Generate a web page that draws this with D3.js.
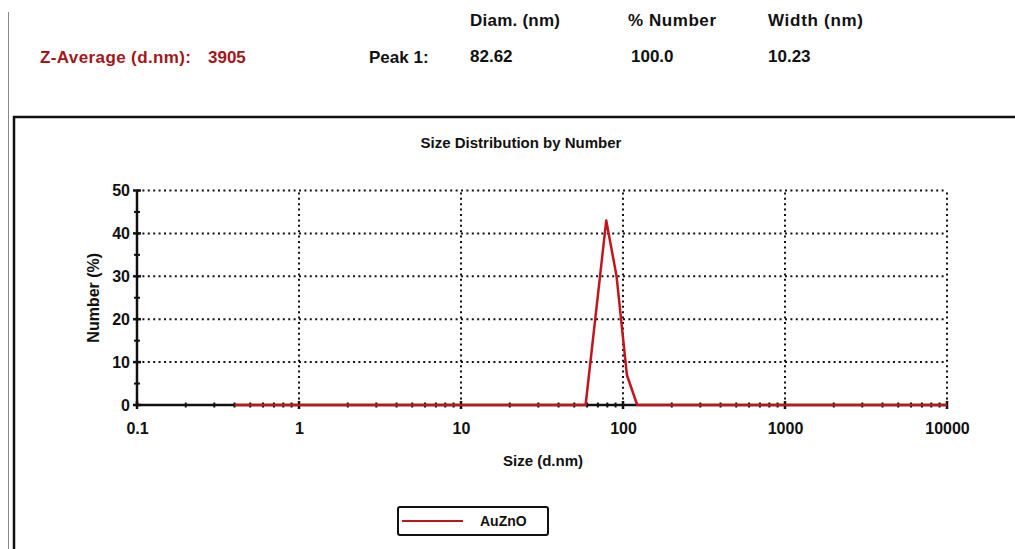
<!DOCTYPE html>
<html><head><meta charset="utf-8">
<script src="https://cdn.jsdelivr.net/npm/d3@7"></script>
<style>
html,body{margin:0;padding:0;background:#fff;}
svg{display:block;}
text{font-family:"Liberation Sans",Arial,sans-serif;font-weight:bold;}
</style></head>
<body>
<svg id="c" width="1015" height="549"></svg>
<script>
// ---- data ----
const sizes = [0.4, 58.77, 68.06, 78.82, 91.28, 105.7, 122.4, 10000];
const numbers = [0, 0, 21.5, 43, 30, 7, 0, 0];
const seriesName = "AuZnO";
const xTickValues = [0.1, 1, 10, 100, 1000, 10000];
const xTickLabels = ["0.1", "1", "10", "100", "1000", "10000"];
const yTickValues = [0, 10, 20, 30, 40, 50];
const headerLabels = ["Diam. (nm)", "% Number", "Width (nm)"];
const peakValues = ["82.62", "100.0", "10.23"];
const zAverage = "3905";

const svg = d3.select("#c");
const x = d3.scaleLog().domain([0.1, 10000]).range([137, 947]);
const y = d3.scaleLinear().domain([0, 50]).range([405, 190.5]);

// frame lines
svg.append("line").attr("x1", 8.5).attr("x2", 8.5).attr("y1", 12).attr("y2", 549)
  .attr("stroke", "#888").attr("stroke-width", 1);
svg.append("path").attr("d", "M14,549 V117 H1015").attr("fill", "none")
  .attr("stroke", "#111").attr("stroke-width", 2.5);

// header
const hdrX = [470, 628, 768];
headerLabels.forEach((t, i) => svg.append("text").attr("x", hdrX[i]).attr("y", 26)
  .attr("font-size", 17).attr("fill", "#111").attr("textLength", [90, 88, 95][i]).text(t));
peakValues.forEach((t, i) => svg.append("text").attr("x", hdrX[i] + (i === 1 ? 3 : 0)).attr("y", 62)
  .attr("font-size", 17).attr("fill", "#111").text(t));
svg.append("text").attr("x", 369).attr("y", 63).attr("font-size", 17).attr("fill", "#111").text("Peak 1:");
svg.append("text").attr("x", 40).attr("y", 63).attr("font-size", 17).attr("fill", "#a3161a")
  .attr("textLength", 151).text("Z-Average (d.nm):");
svg.append("text").attr("x", 208).attr("y", 63).attr("font-size", 17).attr("fill", "#a3161a")
  .text(zAverage);

// title
svg.append("text").attr("x", 521).attr("y", 148).attr("text-anchor", "middle")
  .attr("font-size", 15).attr("fill", "#111")
  .text("Size Distribution by Number");

// grid (dotted)
const g = svg.append("g");
g.selectAll("line.hg").data(yTickValues.filter(v => v > 0)).join("line")
  .attr("x1", x(0.1)).attr("x2", x(10000)).attr("y1", d => y(d)).attr("y2", d => y(d))
  .attr("stroke", "#111").attr("stroke-width", 2).attr("stroke-dasharray", "2,3.4");
g.selectAll("line.vg").data(xTickValues.filter(v => v > 0.1)).join("line")
  .attr("y1", y(0)).attr("y2", y(50)).attr("x1", d => x(d)).attr("x2", d => x(d))
  .attr("stroke", "#111").attr("stroke-width", 2).attr("stroke-dasharray", "2,3.4");

// axes lines
svg.append("line").attr("x1", x(0.1)).attr("x2", x(10000)).attr("y1", y(0)).attr("y2", y(0))
  .attr("stroke", "#111").attr("stroke-width", 2.5);
svg.append("line").attr("x1", x(0.1)).attr("x2", x(0.1)).attr("y1", y(0)).attr("y2", y(50))
  .attr("stroke", "#111").attr("stroke-width", 2.5);

// x minor ticks
const minor = [];
xTickValues.slice(0, -1).forEach(d => { for (let k = 2; k <= 9; k++) minor.push(d * k); });
svg.selectAll("line.xm").data(minor).join("line")
  .attr("x1", d => x(d)).attr("x2", d => x(d)).attr("y1", y(0) - 2.5).attr("y2", y(0) + 2.5)
  .attr("stroke", "#111").attr("stroke-width", 2);
svg.selectAll("line.xM").data(xTickValues).join("line")
  .attr("x1", d => x(d)).attr("x2", d => x(d)).attr("y1", y(0) - 4).attr("y2", y(0) + 4)
  .attr("stroke", "#111").attr("stroke-width", 2.5);
// y ticks
const yMinor = [5, 15, 25, 35, 45];
svg.selectAll("line.ym").data(yMinor).join("line")
  .attr("x1", x(0.1) - 3).attr("x2", x(0.1) + 3).attr("y1", d => y(d)).attr("y2", d => y(d))
  .attr("stroke", "#111").attr("stroke-width", 2);
svg.selectAll("line.yM").data(yTickValues).join("line")
  .attr("x1", x(0.1) - 4).attr("x2", x(0.1) + 4).attr("y1", d => y(d)).attr("y2", d => y(d))
  .attr("stroke", "#111").attr("stroke-width", 2.5);

// axis labels via d3 axes
const xa = svg.append("g").attr("transform", `translate(0,${y(0)})`)
  .call(d3.axisBottom(x).tickValues(xTickValues).tickFormat((d, i) => xTickLabels[i]).tickSize(0).tickPadding(18));
xa.select(".domain").remove();
xa.selectAll("text").attr("font-size", 16).attr("fill", "#111").attr("font-family", "Liberation Sans, Arial, sans-serif");
const ya = svg.append("g").attr("transform", `translate(${x(0.1)},0)`)
  .call(d3.axisLeft(y).tickValues(yTickValues).tickFormat(d3.format("d")).tickSize(0).tickPadding(7));
ya.select(".domain").remove();
ya.selectAll("text").attr("font-size", 16).attr("fill", "#111").attr("font-family", "Liberation Sans, Arial, sans-serif");

svg.append("text").attr("x", 543).attr("y", 466).attr("text-anchor", "middle")
  .attr("font-size", 15).attr("fill", "#111").text("Size (d.nm)");
svg.append("text").attr("transform", `translate(99,${(y(0) + y(50)) / 2}) rotate(-90)`)
  .attr("text-anchor", "middle").attr("font-size", 16).attr("fill", "#111").text("Number (%)");

// series line
const line = d3.line().x((d, i) => x(sizes[i])).y(d => y(d));
svg.append("path").datum(numbers).attr("d", line).attr("fill", "none")
  .attr("stroke", "#c0161c").attr("stroke-width", 2.5).attr("stroke-linejoin", "round");

// legend
svg.append("rect").attr("x", 398).attr("y", 507).attr("width", 150).attr("height", 28).attr("rx", 2)
  .attr("fill", "#fff").attr("stroke", "#111").attr("stroke-width", 2);
svg.append("line").attr("x1", 402).attr("x2", 463).attr("y1", 521).attr("y2", 521)
  .attr("stroke", "#c0161c").attr("stroke-width", 2);
svg.append("text").attr("x", 480).attr("y", 526).attr("font-size", 14).attr("fill", "#111").text(seriesName);
</script>
</body></html>
